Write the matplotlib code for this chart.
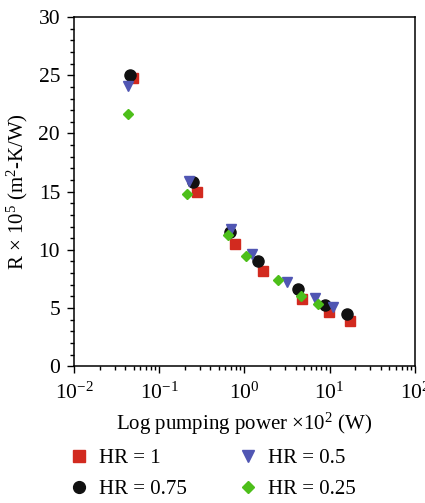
import matplotlib as mpl
mpl.use("Agg")
import matplotlib.pyplot as plt
from matplotlib.lines import Line2D
from matplotlib.ticker import MultipleLocator, LogLocator, NullFormatter

mpl.rcParams["font.family"] = "serif"
mpl.rcParams["font.serif"] = ["Liberation Serif", "DejaVu Serif"]
mpl.rcParams["mathtext.fontset"] = "custom"
mpl.rcParams["mathtext.rm"] = "Liberation Serif"
mpl.rcParams["mathtext.it"] = "Liberation Serif:italic"

# pumping power (x10^2 W) and R (x10^5 m2-K/W) for each height ratio
hr1_x = [0.049, 0.277, 0.774, 1.65, 4.72, 9.8, 17.3]
hr1_y = [24.76, 14.96, 10.49, 8.17, 5.76, 4.64, 3.87]
hr075_x = [0.045, 0.249, 0.676, 1.44, 4.24, 8.79, 15.9]
hr075_y = [25.02, 15.82, 11.52, 9.03, 6.62, 5.24, 4.47]
hr05_x = [0.043, 0.224, 0.695, 1.22, 3.16, 6.71, 10.96]
hr05_y = [24.1, 15.9, 11.78, 9.63, 7.22, 5.85, 5.07]
hr025_x = [0.043, 0.21, 0.65, 1.05, 2.47, 4.6, 7.3]
hr025_y = [21.67, 14.79, 11.26, 9.46, 7.39, 6.02, 5.33]
labels = ["HR = 1", "HR = 0.75", "HR = 0.5", "HR = 0.25"]

red, black, blue, green = "#d22a1f", "#111111", "#5056b3", "#4dbf1a"

fig = plt.figure(figsize=(4.25, 5.03), dpi=100)
ax = fig.add_axes([0.174, 0.272, 0.802, 0.694])

ax.plot(hr1_x, hr1_y, ls="none", marker="s", ms=6.5, color=red)
ax.plot(hr075_x, hr075_y, ls="none", marker="o", ms=8, color=black)
ax.plot(hr05_x, hr05_y, ls="none", marker="v", ms=7, color=blue)
ax.plot(hr025_x, hr025_y, ls="none", marker="D", ms=5.2, color=green)

ax.set_xscale("log")
ax.set_xlim(1e-2, 1e2)
ax.set_ylim(0, 30)
ax.yaxis.set_major_locator(MultipleLocator(5))
ax.yaxis.set_minor_locator(MultipleLocator(1))
ax.xaxis.set_major_locator(LogLocator(base=10, numticks=10))
ax.xaxis.set_minor_locator(LogLocator(base=10, subs=range(2, 10), numticks=20))
ax.xaxis.set_minor_formatter(NullFormatter())

for s in ax.spines.values():
    s.set_linewidth(1.1)
ax.tick_params(which="both", direction="out", width=1.0, labelsize=15.5, top=False, right=False)
ax.tick_params(which="major", length=5, pad=5)
ax.tick_params(axis="x", which="major", pad=7)
ax.tick_params(which="minor", length=3)

ax.set_xlabel(r"Log pumping power $\times$10$^2$ (W)", fontsize=15, labelpad=5)
ax.set_ylabel(r"R $\times$ 10$^5$ (m$^2$-K/W)", fontsize=15, labelpad=6)

# legend handles drawn a little bigger than the plotted markers
handles = [
    Line2D([], [], ls="none", marker="s", ms=8, color=red),
    Line2D([], [], ls="none", marker="o", ms=8.5, color=black),
    Line2D([], [], ls="none", marker="v", ms=8, color=blue),
    Line2D([], [], ls="none", marker="D", ms=6, color=green),
]
fig.legend(handles, labels, ncol=2, loc="center", bbox_to_anchor=(0.502, 0.058),
           frameon=False, fontsize=15, columnspacing=2.55, handletextpad=0.56,
           labelspacing=0.55, handlelength=0.8, borderpad=0)

fig.savefig("out.png", dpi=100)
